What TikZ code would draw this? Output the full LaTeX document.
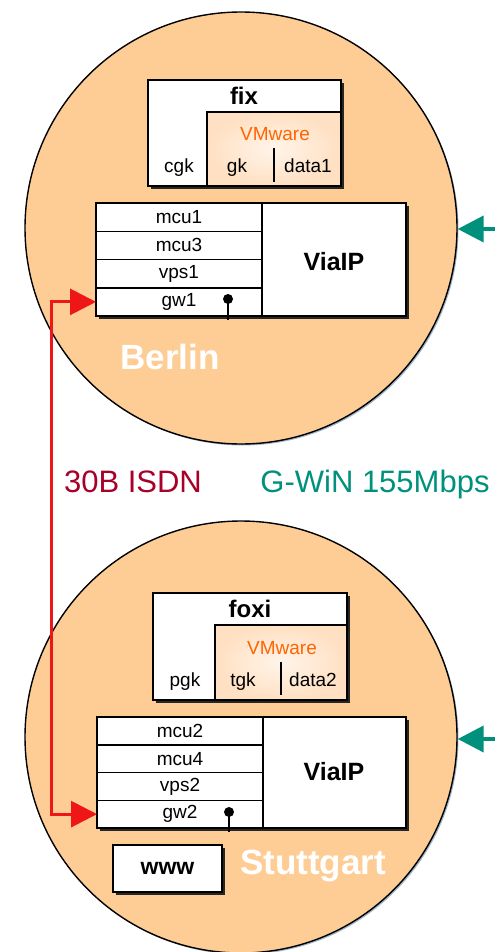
\documentclass[tikz,border=0pt]{standalone}
\usepackage{xcolor}
\usepackage{fontspec}
\setmainfont{Liberation Sans}
\usepackage{tikz}
\usetikzlibrary{shapes,arrows.meta,positioning,shadows}
\definecolor{sitefill}{RGB}{254,205,150}
\definecolor{siteshade}{RGB}{120,150,180}
\definecolor{vmfill}{RGB}{255,224,194}
\definecolor{vmorange}{RGB}{255,100,0}
\definecolor{isdnred}{RGB}{238,22,22}
\definecolor{isdntext}{RGB}{168,0,40}
\definecolor{gwinteal}{RGB}{0,145,125}
\newcommand{\pxfont}[1]{\fontsize{#1}{#1}\selectfont}

\begin{document}
\begin{tikzpicture}[
    x=1pt, y=-1pt,
    >={Triangle[length=26pt,width=26pt]},
    site/.style={circle, draw=black, line width=1.4pt, fill=sitefill,
                 minimum size=432pt, inner sep=0pt,
                 drop shadow={shadow xshift=1.5pt, shadow yshift=-1.5pt, fill=siteshade, opacity=0.7}},
    hostbox/.style={rectangle, draw=black, line width=1.8pt, fill=white,
                    inner sep=0pt, outer sep=0pt,
                    drop shadow={shadow xshift=3pt, shadow yshift=-3pt, fill=black!85, opacity=1}},
    vmbox/.style={rectangle, draw=black, line width=1.5pt, anchor=north east,
                  inner color=vmfill!35!white, outer color=vmfill, inner sep=0pt, outer sep=0pt},
    row/.style={rectangle, draw=black, line width=1.5pt, minimum width=166pt,
                inner sep=0pt, outer sep=0pt, font=\pxfont{19}},
    tag/.style={inner sep=0pt, text height=13pt, text depth=3.5pt, font=\pxfont{19}},
    hostname/.style={inner sep=0pt, font=\bfseries\pxfont{24}},
    vmname/.style={inner sep=0pt, text=vmorange, font=\pxfont{19}},
    jack/.style={circle, fill=black, minimum size=10pt, inner sep=0pt},
    sitename/.style={inner sep=0pt, text=white, font=\bfseries\pxfont{35}},
    linkname/.style={inner sep=0pt, anchor=base, font=\pxfont{31}},
    isdn/.style={<->, draw=isdnred, line width=3pt},
    gwin/.style={->, draw=gwinteal, line width=4pt}
]
\useasboundingbox (0,0) rectangle (495,952);

% Berlin site
\node[site] (berlin) at (241,228) {};

% host fix
\node[hostbox, anchor=north west, minimum width=193pt, minimum height=106pt] (fix) at (148,80) {};
\node[vmbox, minimum width=134pt, minimum height=74pt] (vm1) at (341,112) {};
\node[hostname] (fixname) at (244,96) {fix};
\node[vmname] (vmname1) at (275,134) {VMware};
\node[tag] (cgk) at (179,168) {cgk};
\node[tag] (gk) at (237,168) {gk};
\node[tag] (data1) at (308,168) {data1};
\draw[line width=1.5pt] (274,148) -- (274,182);

% ViaIP Berlin
\node[hostbox, anchor=north west, minimum width=310pt, minimum height=113pt] (via1) at (96,203) {};
\node[row, minimum height=28.25pt, anchor=north west] (mcu1) at (via1.north west) {mcu1};
\node[row, minimum height=28.25pt, below=0pt of mcu1] (mcu3) {mcu3};
\node[row, minimum height=28.25pt, below=0pt of mcu3] (vps1) {vps1};
\node[row, minimum height=28.25pt, below=0pt of vps1] (gw1) {gw1};
\node[hostname, font=\bfseries\pxfont{25}] (vialp1) at (334,262) {ViaIP};
\node[jack] (jack1) at (228,299) {};
\draw[line width=1.2pt] (jack1.center) -- ([yshift=-4pt]jack1 |- via1.south);

\node[sitename] (berlinname) at (170,357) {Berlin};

% Stuttgart site
\node[site] (stuttgart) at (241,737) {};

% host foxi
\node[hostbox, anchor=north west, minimum width=194pt, minimum height=107pt] (foxi) at (153,593) {};
\node[vmbox, minimum width=132pt, minimum height=75pt] (vm2) at (347,625) {};
\node[hostname] (foxiname) at (250,609) {foxi};
\node[vmname] (vmname2) at (282,648) {VMware};
\node[tag] (pgk) at (185,682) {pgk};
\node[tag] (tgk) at (243,682) {tgk};
\node[tag] (data2) at (313,682) {data2};
\draw[line width=1.5pt] (281,662) -- (281,695);

% ViaIP Stuttgart
\node[hostbox, anchor=north west, minimum width=309pt, minimum height=111pt] (via2) at (97,717) {};
\node[row, minimum height=27.75pt, anchor=north west] (mcu2) at (via2.north west) {mcu2};
\node[row, minimum height=27.75pt, below=0pt of mcu2] (mcu4) {mcu4};
\node[row, minimum height=27.75pt, below=0pt of mcu4] (vps2) {vps2};
\node[row, minimum height=27.75pt, below=0pt of vps2] (gw2) {gw2};
\node[hostname, font=\bfseries\pxfont{25}] (vialp2) at (334,772) {ViaIP};
\node[jack] (jack2) at (229,812) {};
\draw[line width=1.2pt] (jack2.center) -- ([yshift=-4pt]jack2 |- via2.south);

% web server
\node[hostbox, anchor=north west, minimum width=109pt, minimum height=47pt,
      font=\bfseries\pxfont{23}] (www) at (113,845) {www};
\node[sitename] (stuttgartname) at (313,866) {Stuttgart};

% links
\node[linkname, text=isdntext] (isdnname) at (133,492) {30B ISDN};
\node[linkname, text=gwinteal] (gwinname) at (375,492) {G-WiN 155Mbps};

\coordinate (isdnbus) at (51,0);
\draw[isdn] (gw1.west) -- (gw1.west -| isdnbus) |- (gw2.west);

\coordinate (gwinin1) at (495,229);
\coordinate (gwinin2) at (495,739);
\draw[gwin] (gwinin1) -- (gwinin1 -| berlin.east);
\draw[gwin] (gwinin2) -- (gwinin2 -| stuttgart.east);

\end{tikzpicture}
\end{document}
